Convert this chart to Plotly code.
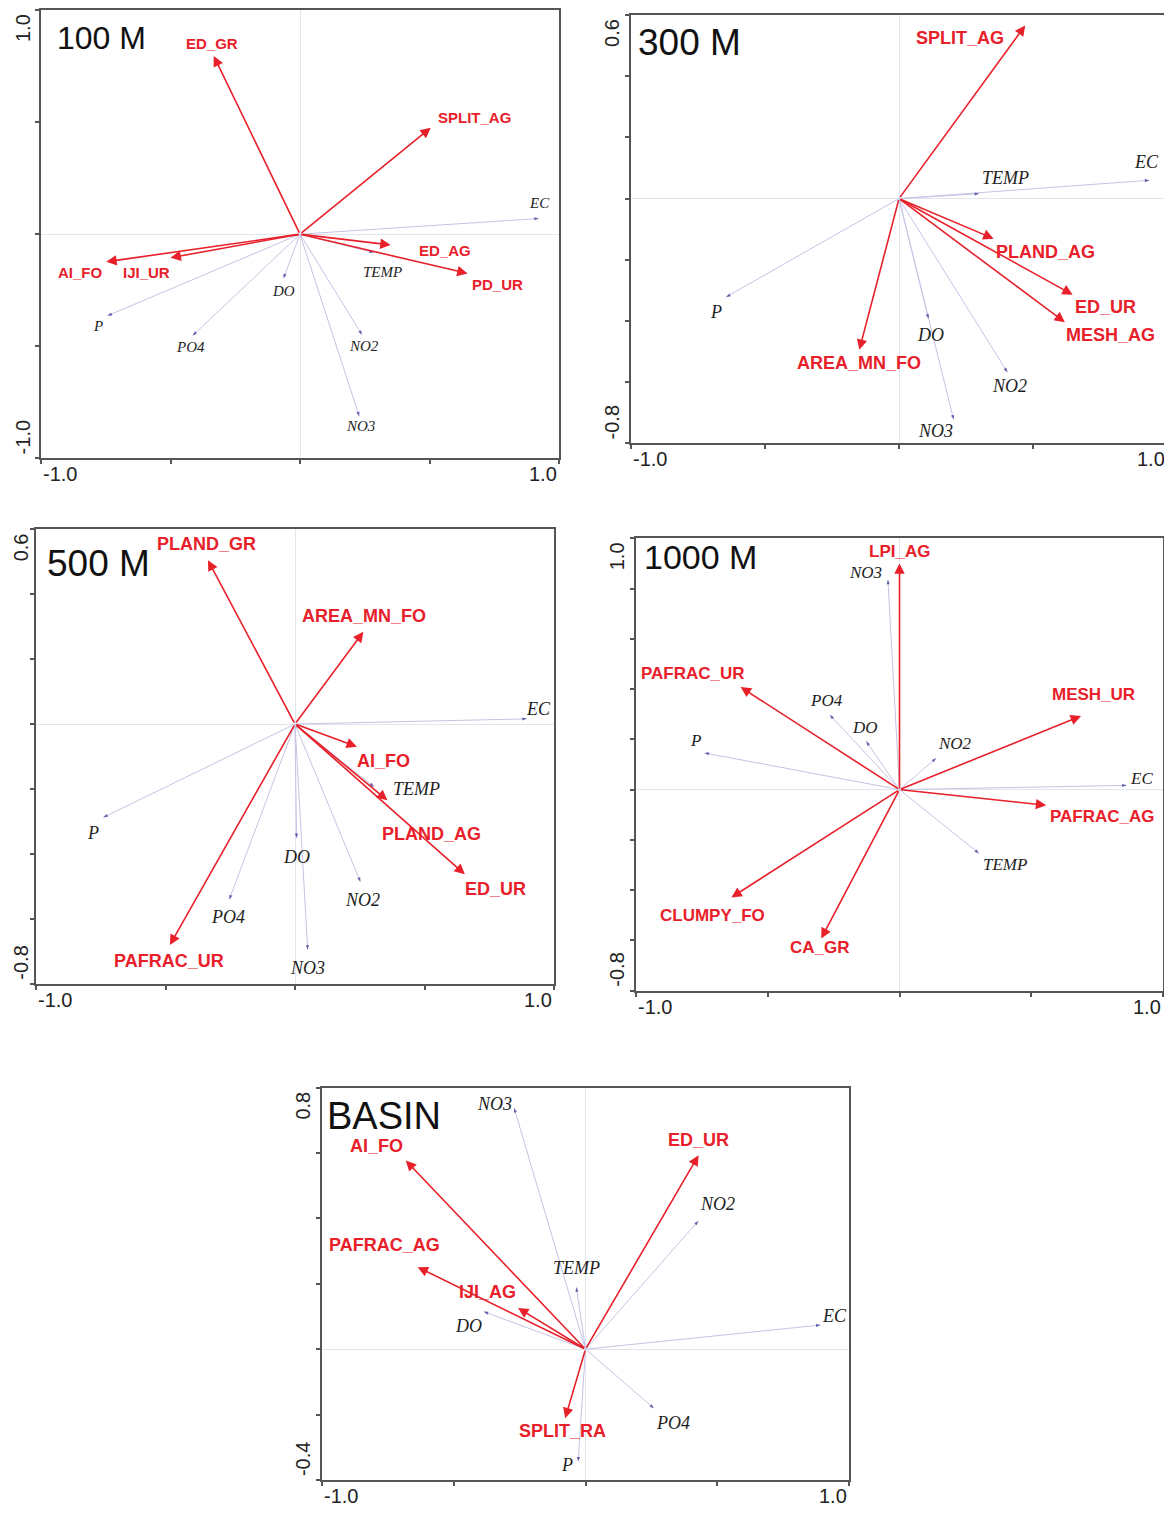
import numpy as np
import plotly.graph_objects as go

W, H = 1172, 1520          # reference image size
OFF = 8                    # default page body margin
FW, FH = W - OFF, H - 2 * OFF
RED = "#e8202a"
LAV = "#c4c4e4"
NAVY = "#1c1c8c"
AXC = "#555555"

# ---------------- data ----------------
# 100 M
m100_land_names = ["ED_GR", "SPLIT_AG", "AI_FO", "IJI_UR", "ED_AG", "PD_UR"]
m100_land_x = [-0.333, 0.505, -0.748, -0.50, 0.35, 0.647]
m100_land_y = [0.795, 0.475, -0.123, -0.105, -0.048, -0.175]
m100_env_names = ["EC", "TEMP", "DO", "P", "PO4", "NO2", "NO3"]
m100_env_x = [0.923, 0.286, -0.064, -0.744, -0.415, 0.24, 0.229]
m100_env_y = [0.07, -0.082, -0.198, -0.364, -0.453, -0.45, -0.813]

# 300 M
m300_land_names = ["SPLIT_AG", "PLAND_AG", "ED_UR", "MESH_AG", "AREA_MN_FO"]
m300_land_x = [0.471, 0.353, 0.648, 0.619, -0.148]
m300_land_y = [0.566, -0.131, -0.314, -0.404, -0.494]
m300_env_names = ["EC", "TEMP", "P", "DO", "NO2", "NO3"]
m300_env_x = [0.935, 0.30, -0.646, 0.11, 0.405, 0.204]
m300_env_y = [0.06, 0.016, -0.322, -0.393, -0.568, -0.723]

# 500 M
m500_land_names = ["PLAND_GR", "AREA_MN_FO", "AI_FO", "PLAND_AG", "ED_UR", "PAFRAC_UR"]
m500_land_x = [-0.336, 0.264, 0.239, 0.357, 0.656, -0.483]
m500_land_y = [0.505, 0.284, -0.07, -0.235, -0.463, -0.681]
m500_env_names = ["EC", "TEMP", "P", "DO", "NO2", "PO4", "NO3"]
m500_env_x = [0.896, 0.306, -0.741, 0.006, 0.253, -0.254, 0.049]
m500_env_y = [0.016, -0.194, -0.288, -0.352, -0.487, -0.541, -0.696]

# 1000 M
m1000_land_names = ["LPI_AG", "PAFRAC_UR", "MESH_UR", "PAFRAC_AG", "CLUMPY_FO", "CA_GR"]
m1000_land_x = [0.0, -0.603, 0.689, 0.557, -0.638, -0.297]
m1000_land_y = [0.90, 0.408, 0.293, -0.062, -0.429, -0.592]
m1000_env_names = ["NO3", "PO4", "DO", "P", "NO2", "EC", "TEMP"]
m1000_env_x = [-0.044, -0.265, -0.127, -0.741, 0.14, 0.863, 0.302]
m1000_env_y = [0.836, 0.298, 0.193, 0.146, 0.126, 0.017, -0.254]

# BASIN
basin_land_names = ["AI_FO", "ED_UR", "PAFRAC_AG", "IJI_AG", "SPLIT_RA"]
basin_land_x = [-0.682, 0.429, -0.637, -0.256, -0.077]
basin_land_y = [0.577, 0.593, 0.251, 0.126, -0.211]
basin_env_names = ["NO3", "NO2", "TEMP", "DO", "EC", "PO4", "P"]
basin_env_x = [-0.271, 0.429, -0.035, -0.387, 0.893, 0.26, -0.028]
basin_env_y = [0.738, 0.393, 0.19, 0.115, 0.074, -0.181, -0.344]

x_tick_labels = ["-1.0", "1.0"]

# ---------------- label offsets (px, +dy = down) ----------------
sh100 = {"ED_GR": (-2, -12), "SPLIT_AG": (44, -10), "AI_FO": (-26, 11), "IJI_UR": (-24, 15),
         "ED_AG": (54, 6), "PD_UR": (30, 11), "EC": (0, -16), "TEMP": (8, 19), "DO": (0, 12),
         "P": (-9, 10), "PO4": (-2, 11), "NO2": (2, 11), "NO3": (1, 10)}
sh300 = {"SPLIT_AG": (-65, 13), "PLAND_AG": (52, 13), "ED_UR": (33, 12), "MESH_AG": (46, 13),
         "AREA_MN_FO": (0, 13), "EC": (-3, -18), "TEMP": (26, -16), "P": (-10, 15), "DO": (2, 16),
         "NO2": (2, 14), "NO3": (-18, 11)}
sh500 = {"PLAND_GR": (-1, -16), "AREA_MN_FO": (1, -16), "AI_FO": (27, 14), "PLAND_AG": (44, 34),
         "ED_UR": (31, 15), "PAFRAC_UR": (-1, 16), "EC": (11, -10), "TEMP": (42, 2), "P": (-10, 15),
         "DO": (0, 19), "NO2": (2, 18), "PO4": (-1, 17), "NO3": (0, 18)}
sh1000 = {"LPI_AG": (0, -12), "PAFRAC_UR": (-48, -14), "MESH_UR": (12, -21), "PAFRAC_AG": (56, 11),
          "CLUMPY_FO": (-19, 18), "CA_GR": (-1, 9), "NO3": (-22, -7), "PO4": (-3, -14), "DO": (-1, -14),
          "P": (-9, -12), "NO2": (19, -14), "EC": (15, -7), "TEMP": (26, 11)}
shB = {"AI_FO": (-29, -15), "ED_UR": (0, -15), "PAFRAC_AG": (-33, -22), "IJI_AG": (-31, -16),
       "SPLIT_RA": (-3, 13), "NO3": (-20, -4), "NO2": (19, -17), "TEMP": (0, -19), "DO": (-15, 14),
       "EC": (14, -9), "PO4": (19, 15), "P": (-11, 3)}

panels = [
    dict(title="100 M", box=(41, 8, 559, 457), yr=(-1.0, 1.0), ystep=0.5, ylab=("1.0", "-1.0"),
         land=(m100_land_names, m100_land_x, m100_land_y), env=(m100_env_names, m100_env_x, m100_env_y),
         sh=sh100, tpos=(55, 36), tsize=32, rsize=15, esize=15, ylx=-6),
    dict(title="300 M", box=(631, 13, 1167, 442), yr=(-0.8, 0.6), ystep=0.2, ylab=("0.6", "-0.8"),
         land=(m300_land_names, m300_land_x, m300_land_y), env=(m300_env_names, m300_env_x, m300_env_y),
         sh=sh300, tpos=(636, 41), tsize=37, rsize=18, esize=18, ylx=-7),
    dict(title="500 M", box=(36, 528, 554, 983), yr=(-0.8, 0.6), ystep=0.2, ylab=("0.6", "-0.8"),
         land=(m500_land_names, m500_land_x, m500_land_y), env=(m500_env_names, m500_env_x, m500_env_y),
         sh=sh500, tpos=(45, 562), tsize=37, rsize=18, esize=18, ylx=-3),
    dict(title="1000 M", box=(636, 537, 1163, 990), yr=(-0.8, 1.0), ystep=0.2, ylab=("1.0", "-0.8"),
         land=(m1000_land_names, m1000_land_x, m1000_land_y), env=(m1000_env_names, m1000_env_x, m1000_env_y),
         sh=sh1000, tpos=(642, 556), tsize=34, rsize=17, esize=17, ylx=-7),
    dict(title="BASIN", box=(322, 1087, 849, 1480), yr=(-0.4, 0.8), ystep=0.2, ylab=("0.8", "-0.4"),
         land=(basin_land_names, basin_land_x, basin_land_y), env=(basin_env_names, basin_env_x, basin_env_y),
         sh=shB, tpos=(325, 1115), tsize=38, rsize=18, esize=18, ylx=-7),
]


def px(xp):
    return min(1.0, max(0.0, (xp - OFF) / FW))


def py(yp):
    return min(1.0, max(0.0, 1 - (yp - OFF) / FH))


fig = go.Figure()
annotations = []
layout = dict(width=FW, height=FH, margin=dict(l=0, r=0, t=0, b=0),
              paper_bgcolor="white", plot_bgcolor="white", showlegend=False)

for i, p in enumerate(panels, start=1):
    sfx = "" if i == 1 else str(i)
    xr, yr = "x" + sfx, "y" + sfx
    x0, y0, x1, y1 = p["box"]
    yt = list(np.round(np.arange(p["yr"][0], p["yr"][1] + 1e-9, p["ystep"]), 2))
    common = dict(showgrid=False, zeroline=True, zerolinecolor="#e2e4ee", zerolinewidth=1,
                  showline=True, linecolor=AXC, linewidth=2, mirror=True,
                  ticks="outside", ticklen=4, tickcolor=AXC, tickwidth=1.5,
                  showticklabels=False, fixedrange=True)
    layout["xaxis" + sfx] = dict(domain=[px(x0), px(x1)], range=[-1.0, 1.0],
                                 tickvals=[-1, -0.5, 0, 0.5, 1], anchor=yr, **common)
    layout["yaxis" + sfx] = dict(domain=[py(y1), py(y0)], range=list(p["yr"]),
                                 tickvals=yt, anchor=xr, **common)

    # environmental (water quality) vectors
    en, ex, ey = p["env"]
    lx, ly, ms = [], [], []
    for a, b in zip(ex, ey):
        lx += [0, a, None]
        ly += [0, b, None]
        ms += [0, 5, 0]
    fig.add_trace(go.Scatter(x=lx, y=ly, xaxis=xr, yaxis=yr, mode="lines+markers",
                             line=dict(color=LAV, width=1),
                             marker=dict(symbol="arrow", size=ms, color=NAVY, angleref="previous",
                                         line=dict(width=0)),
                             hoverinfo="skip"))
    for n, a, b in zip(en, ex, ey):
        dx, dy = p["sh"][n]
        annotations.append(dict(x=a, y=b, xref=xr, yref=yr, text="<i>%s</i>" % n, showarrow=False,
                                xshift=dx, yshift=-dy, xanchor="center", yanchor="middle",
                                font=dict(family="Liberation Serif, Times New Roman, serif",
                                          size=p["esize"], color="#1e1e1e")))

    # landscape metric vectors (red arrows)
    rn, rx, ry = p["land"]
    for n, a, b in zip(rn, rx, ry):
        annotations.append(dict(x=a, y=b, xref=xr, yref=yr, ax=0, ay=0, axref=xr, ayref=yr,
                                text="", showarrow=True, arrowhead=2, arrowsize=1.3,
                                arrowwidth=1.6, arrowcolor=RED, standoff=0))
        dx, dy = p["sh"][n]
        annotations.append(dict(x=a, y=b, xref=xr, yref=yr, text="<b>%s</b>" % n, showarrow=False,
                                xshift=dx, yshift=-dy, xanchor="center", yanchor="middle",
                                font=dict(family="Liberation Sans, Arial, sans-serif",
                                          size=p["rsize"], color=RED)))

    # panel title
    annotations.append(dict(x=px(p["tpos"][0]), y=py(p["tpos"][1]), xref="paper", yref="paper",
                            text=p["title"], showarrow=False, xanchor="left", yanchor="middle",
                            font=dict(family="Liberation Sans, Arial, sans-serif", size=p["tsize"],
                                      color="#111111")))
    # axis end labels
    tf = dict(family="Liberation Sans, Arial, sans-serif", size=20, color="#222222")
    annotations.append(dict(x=px(x0), y=py(y1), xref="paper", yref="paper", text=x_tick_labels[0],
                            showarrow=False, xanchor="left", yanchor="top", yshift=-3, font=tf))
    annotations.append(dict(x=px(x1), y=py(y1), xref="paper", yref="paper", text=x_tick_labels[1],
                            showarrow=False, xanchor="right", yanchor="top", yshift=-3, font=tf))
    annotations.append(dict(x=px(x0), y=py(y0), xref="paper", yref="paper", text=p["ylab"][0],
                            showarrow=False, xanchor="right", yanchor="top", xshift=p["ylx"], yshift=-3,
                            textangle=-90, borderpad=0, font=tf))
    annotations.append(dict(x=px(x0), y=py(y1), xref="paper", yref="paper", text=p["ylab"][1],
                            showarrow=False, xanchor="right", yanchor="bottom", xshift=p["ylx"], yshift=3,
                            textangle=-90, borderpad=0, font=tf))

layout["annotations"] = annotations
fig.update_layout(**layout)
fig.write_html("out.html")
